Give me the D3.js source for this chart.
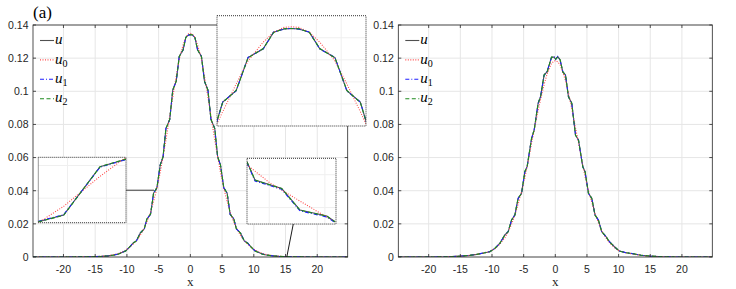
<!DOCTYPE html>
<html lang="en">
<head>
<meta charset="UTF-8">
<title>u, u0, u1, u2 profiles</title>
<style>
  body { margin: 0; background: #fff; }
</style>
</head>
<body>
<script src="https://d3js.org/d3.v7.min.js"></script>
<script>
// ---- data ----
const xTicks = [-20, -15, -10, -5, 0, 5, 10, 15, 20];
const yTicks = [0, 0.02, 0.04, 0.06, 0.08, 0.1, 0.12, 0.14];
const yTickLabels = ["0", "0.02", "0.04", "0.06", "0.08", "0.1", "0.12", "0.14"];
const legendLabels = [["u", ""], ["u", "0"], ["u", "1"], ["u", "2"]];
const seriesKeys = ["u", "u0", "u1", "u2"];

// left panel (a)
const xLeft = [-24.8, -20, -16, -14, -13, -12, -11.4, -10.8, -10.2, -9.6, -9.0, -8.5, -7.9, -7.25, -6.85, -6.27, -5.8, -5.27, -4.75, -4.3, -3.85, -3.25, -2.77, -2.23, -1.75, -1.14, -0.72, -0.3,
  0, 0.3, 0.72, 1.14, 1.75, 2.23, 2.77, 3.25, 3.85, 4.3, 4.75, 5.27, 5.8, 6.27, 6.85, 7.25, 7.9, 8.5, 9.0, 9.6, 10.2, 10.8, 11.4, 12, 13, 14, 16, 20, 24.8];
const uLeft = [0, 0, 0.0001, 0.0004, 0.0007, 0.0012, 0.0017, 0.0027, 0.0036, 0.0059, 0.0085, 0.0097, 0.0145, 0.0170, 0.0230, 0.0258, 0.0385, 0.0418, 0.0555, 0.0605, 0.0775, 0.0830, 0.1008, 0.1060, 0.1210, 0.1250, 0.1325, 0.1340,
  0.1342, 0.1340, 0.1325, 0.1250, 0.1210, 0.1060, 0.1008, 0.0830, 0.0775, 0.0605, 0.0555, 0.0418, 0.0385, 0.0258, 0.0230, 0.0170, 0.0145, 0.0097, 0.0085, 0.0059, 0.0036, 0.0027, 0.0017, 0.0012, 0.0007, 0.0004, 0.0001, 0, 0];
const u0Left = [0, 0, 0.0001, 0.0004, 0.0008, 0.0015, 0.0021, 0.0030, 0.0042, 0.0058, 0.0078, 0.0098, 0.0130, 0.0175, 0.0210, 0.0272, 0.0335, 0.0415, 0.0510, 0.0605, 0.0705, 0.0850, 0.0965, 0.1090, 0.1195, 0.1280, 0.1325, 0.1347,
  0.1350, 0.1347, 0.1325, 0.1280, 0.1195, 0.1090, 0.0965, 0.0850, 0.0705, 0.0605, 0.0510, 0.0415, 0.0335, 0.0272, 0.0210, 0.0175, 0.0130, 0.0098, 0.0078, 0.0058, 0.0042, 0.0030, 0.0021, 0.0015, 0.0008, 0.0004, 0.0001, 0, 0];
const u1Left = [0, 0, 0.0001, 0.0004, 0.0007, 0.0012, 0.0018, 0.0027, 0.0037, 0.0058, 0.0086, 0.0097, 0.0146, 0.0169, 0.0231, 0.0257, 0.0386, 0.0417, 0.0556, 0.0604, 0.0776, 0.0829, 0.1009, 0.1059, 0.1211, 0.1249, 0.1326, 0.1339,
  0.1343, 0.1339, 0.1326, 0.1249, 0.1211, 0.1059, 0.1009, 0.0829, 0.0776, 0.0604, 0.0556, 0.0417, 0.0386, 0.0257, 0.0231, 0.0169, 0.0146, 0.0097, 0.0086, 0.0058, 0.0037, 0.0027, 0.0018, 0.0012, 0.0007, 0.0004, 0.0001, 0, 0];
const u2Left = [0, 0, 0.0001, 0.0004, 0.0007, 0.0012, 0.0017, 0.0026, 0.0036, 0.0059, 0.0084, 0.0098, 0.0144, 0.0171, 0.0229, 0.0259, 0.0384, 0.0419, 0.0554, 0.0606, 0.0774, 0.0831, 0.1007, 0.1061, 0.1209, 0.1251, 0.1324, 0.1341,
  0.1342, 0.1341, 0.1324, 0.1251, 0.1209, 0.1061, 0.1007, 0.0831, 0.0774, 0.0606, 0.0554, 0.0419, 0.0384, 0.0259, 0.0229, 0.0171, 0.0144, 0.0098, 0.0084, 0.0059, 0.0036, 0.0026, 0.0017, 0.0012, 0.0007, 0.0004, 0.0001, 0, 0];

// right panel
const xRight = [-24.8, -20, -17, -15.1, -13.5, -12.4, -11.3, -10.33, -9.54, -8.75, -7.97, -7.44, -6.91, -6.39, -5.87, -5.33, -4.81, -4.45, -3.75, -3.34, -2.71, -2.33, -1.77, -1.29, -0.6, -0.19,
  0.05, 0.39, 0.76, 1.18, 1.61, 2.08, 2.6, 3.19, 3.66, 4.34, 4.7, 5.24, 5.76, 6.28, 6.81, 7.33, 8.01, 8.55, 9.34, 10.1, 11.2, 12.3, 13.5, 14.9, 17, 20, 24.8];
const uRight = [0, 0, 0.0001, 0.0005, 0.0010, 0.0016, 0.0024, 0.0032, 0.0052, 0.0083, 0.0133, 0.0153, 0.0223, 0.0253, 0.0354, 0.0384, 0.0515, 0.0545, 0.0716, 0.0766, 0.0928, 0.0967, 0.1098, 0.1118, 0.1205, 0.1207,
  0.1193, 0.1209, 0.1190, 0.1118, 0.1098, 0.0967, 0.0928, 0.0736, 0.0706, 0.0545, 0.0515, 0.0384, 0.0354, 0.0253, 0.0223, 0.0153, 0.0123, 0.0092, 0.0062, 0.0036, 0.0026, 0.0020, 0.0011, 0.0006, 0.0001, 0, 0];
const u0Right = [0, 0, 0.0001, 0.0005, 0.0010, 0.0016, 0.0024, 0.0034, 0.0050, 0.0078, 0.0116, 0.0152, 0.0198, 0.0252, 0.0318, 0.0395, 0.0478, 0.0545, 0.0685, 0.0765, 0.0885, 0.0950, 0.1040, 0.1105, 0.1168, 0.1183,
  0.1185, 0.1178, 0.1160, 0.1115, 0.1065, 0.0990, 0.0895, 0.0780, 0.0690, 0.0555, 0.0485, 0.0400, 0.0330, 0.0262, 0.0207, 0.0158, 0.0114, 0.0086, 0.0056, 0.0037, 0.0025, 0.0017, 0.0010, 0.0005, 0.0001, 0, 0];
const u1Right = [0, 0, 0.0001, 0.0005, 0.0010, 0.0016, 0.0025, 0.0033, 0.0051, 0.0084, 0.0132, 0.0154, 0.0222, 0.0254, 0.0353, 0.0385, 0.0514, 0.0546, 0.0715, 0.0767, 0.0927, 0.0968, 0.1097, 0.1119, 0.1204, 0.1208,
  0.1192, 0.1210, 0.1189, 0.1119, 0.1097, 0.0968, 0.0927, 0.0737, 0.0705, 0.0546, 0.0514, 0.0385, 0.0353, 0.0254, 0.0222, 0.0154, 0.0122, 0.0093, 0.0061, 0.0037, 0.0026, 0.0020, 0.0011, 0.0006, 0.0001, 0, 0];
const u2Right = [0, 0, 0.0001, 0.0005, 0.0010, 0.0016, 0.0024, 0.0032, 0.0053, 0.0082, 0.0134, 0.0152, 0.0224, 0.0252, 0.0355, 0.0383, 0.0516, 0.0544, 0.0717, 0.0765, 0.0929, 0.0966, 0.1099, 0.1117, 0.1206, 0.1206,
  0.1194, 0.1208, 0.1191, 0.1117, 0.1099, 0.0966, 0.0929, 0.0735, 0.0707, 0.0544, 0.0516, 0.0383, 0.0355, 0.0252, 0.0224, 0.0152, 0.0124, 0.0091, 0.0063, 0.0035, 0.0026, 0.0020, 0.0011, 0.0006, 0.0001, 0, 0];

// zoomed detail for the two small insets of panel (a)
const zoomAx = [-5.95, -5.82, -5.633, -5.5];
const zoomAu = [0.03856, 0.03897, 0.04192, 0.04238];
const zoomAu0 = [0.0385, 0.0395, 0.04134, 0.0425];
const zoomAu1 = [0.03858, 0.03899, 0.04190, 0.04236];
const zoomAu2 = [0.03855, 0.03895, 0.04193, 0.04239];
const zoomAtarget = [-5.73, 0.0403];

const zoomBx = [14.8, 14.872, 15.112, 15.277, 15.517, 15.592];
const zoomBu = [0.000679, 0.000568, 0.000517, 0.000385, 0.000349, 0.000314];
const zoomBu0x = [14.8, 15.006, 15.186, 15.592];
const zoomBu0 = [0.00066, 0.00055, 0.000476, 0.000312];
const zoomBu1 = [0.000672, 0.000562, 0.000511, 0.000380, 0.000343, 0.000309];
const zoomBu2 = [0.000678, 0.000567, 0.000516, 0.000384, 0.000348, 0.000313];
const zoomBtarget = [15.2, 0];

// ---- styles ----
const styles = {
  u:  { color: "#505050", dash: null },
  u0: { color: "#ff4a4a", dash: "1,1.5" },
  u1: { color: "#1f1fff", dash: "4,2,1,2" },
  u2: { color: "#1f8a1f", dash: "4,2.5" }
};
const axisColor = "#262626";
const gridColor = "#e6e6e6";
const sansFont = "'Liberation Sans', Arial, sans-serif";
const serifFont = "'Liberation Serif', 'Times New Roman', serif";

const svg = d3.select("body").append("svg")
  .attr("width", 736).attr("height", 289)
  .style("display", "block");

const panels = [
  { left: 33, right: 347.7, top: 25, bottom: 257, xs: xLeft,
    series: { u: uLeft, u0: u0Left, u1: u1Left, u2: u2Left }, title: "(a)" },
  { left: 398.3, right: 712.3, top: 25, bottom: 257, xs: xRight,
    series: { u: uRight, u0: u0Right, u1: u1Right, u2: u2Right }, title: null }
];

function drawLines(g, xs, series, x, y, width) {
  seriesKeys.forEach(k => {
    const pts = series[k].map((v, i) => [xs[i], v]);
    g.append("path")
      .datum(pts)
      .attr("fill", "none")
      .attr("stroke", styles[k].color)
      .attr("stroke-width", width)
      .attr("stroke-dasharray", styles[k].dash)
      .attr("d", d3.line().x(d => x(d[0])).y(d => y(d[1])));
  });
}

panels.forEach((p, pi) => {
  const x = d3.scaleLinear().domain([-24.8, 24.8]).range([p.left, p.right]);
  const y = d3.scaleLinear().domain([0, 0.14]).range([p.bottom, p.top]);
  p.x = x; p.y = y;
  const g = svg.append("g");

  // grid
  g.selectAll(".gx").data(xTicks).enter().append("line")
    .attr("x1", d => x(d)).attr("x2", d => x(d))
    .attr("y1", p.top).attr("y2", p.bottom)
    .attr("stroke", gridColor).attr("stroke-width", 1);
  g.selectAll(".gy").data(yTicks).enter().append("line")
    .attr("x1", p.left).attr("x2", p.right)
    .attr("y1", d => y(d)).attr("y2", d => y(d))
    .attr("stroke", gridColor).attr("stroke-width", 1);

  // curves
  const clipId = "clip" + pi;
  svg.append("clipPath").attr("id", clipId).append("rect")
    .attr("x", p.left).attr("y", p.top - 2)
    .attr("width", p.right - p.left).attr("height", p.bottom - p.top + 2);
  const lg = g.append("g").attr("clip-path", "url(#" + clipId + ")");
  drawLines(lg, p.xs, p.series, x, y, 1.1);

  // box and inward ticks
  g.append("rect")
    .attr("x", p.left).attr("y", p.top)
    .attr("width", p.right - p.left).attr("height", p.bottom - p.top)
    .attr("fill", "none").attr("stroke", axisColor).attr("stroke-width", 0.8);
  const tl = 3;
  xTicks.forEach(t => {
    g.append("line").attr("x1", x(t)).attr("x2", x(t)).attr("y1", p.bottom).attr("y2", p.bottom - tl)
      .attr("stroke", axisColor).attr("stroke-width", 0.8);
    g.append("line").attr("x1", x(t)).attr("x2", x(t)).attr("y1", p.top).attr("y2", p.top + tl)
      .attr("stroke", axisColor).attr("stroke-width", 0.8);
  });
  yTicks.forEach(t => {
    g.append("line").attr("x1", p.left).attr("x2", p.left + tl).attr("y1", y(t)).attr("y2", y(t))
      .attr("stroke", axisColor).attr("stroke-width", 0.8);
    g.append("line").attr("x1", p.right).attr("x2", p.right - tl).attr("y1", y(t)).attr("y2", y(t))
      .attr("stroke", axisColor).attr("stroke-width", 0.8);
  });

  // tick labels
  g.selectAll(".xl").data(xTicks).enter().append("text")
    .attr("x", d => x(d)).attr("y", p.bottom + 16)
    .attr("text-anchor", "middle")
    .attr("font-family", sansFont).attr("font-size", 10.5)
    .attr("fill", axisColor)
    .text(d => String(d));
  g.selectAll(".yl").data(yTicks).enter().append("text")
    .attr("x", p.left - 4.5).attr("y", d => y(d) + 3.8)
    .attr("text-anchor", "end")
    .attr("font-family", sansFont).attr("font-size", 10.5)
    .attr("fill", axisColor)
    .text((d, i) => yTickLabels[i]);

  // x label
  g.append("text")
    .attr("x", x(0)).attr("y", 286)
    .attr("text-anchor", "middle")
    .attr("font-family", serifFont).attr("font-size", 13)
    .attr("fill", axisColor)
    .text("x");

  if (p.title) {
    g.append("text")
      .attr("x", p.left).attr("y", 18)
      .attr("font-family", serifFont).attr("font-size", 17)
      .attr("fill", "#000")
      .text(p.title);
  }

  // legend
  const lgd = g.append("g");
  seriesKeys.forEach((k, i) => {
    const ly = p.top + 15.5 + i * 19.4;
    lgd.append("line")
      .attr("x1", p.left + 7).attr("x2", p.left + 21)
      .attr("y1", ly).attr("y2", ly)
      .attr("stroke", styles[k].color).attr("stroke-width", 1.1)
      .attr("stroke-dasharray", styles[k].dash);
    const t = lgd.append("text")
      .attr("x", p.left + 22).attr("y", ly + 3.7)
      .attr("font-family", serifFont).attr("font-size", 15)
      .attr("font-style", "italic").attr("fill", "#000");
    t.append("tspan").text(legendLabels[i][0]);
    if (legendLabels[i][1]) {
      t.append("tspan").attr("dy", 3).attr("font-size", 10)
        .attr("font-style", "normal").text(legendLabels[i][1]);
    }
  });
});

// ---- insets on panel (a) ----
const pa = panels[0];

function drawInset(box, xd, yd, lines, gridTicks) {
  const ix = d3.scaleLinear().domain(xd).range([box.x, box.x + box.w]);
  const iy = d3.scaleLinear().domain(yd).range([box.y + box.h, box.y]);
  const g = svg.append("g");
  const id = "iclip" + Math.round(box.x);
  svg.append("clipPath").attr("id", id).append("rect")
    .attr("x", box.x).attr("y", box.y).attr("width", box.w).attr("height", box.h);
  g.append("rect").attr("x", box.x).attr("y", box.y).attr("width", box.w).attr("height", box.h)
    .attr("fill", "#fff");
  const gx = gridTicks ? gridTicks[0] : ix.ticks(2);
  const gy = gridTicks ? gridTicks[1] : iy.ticks(2);
  g.selectAll(".igx").data(gx).enter().append("line")
    .attr("x1", d => ix(d)).attr("x2", d => ix(d)).attr("y1", box.y).attr("y2", box.y + box.h)
    .attr("stroke", "#efefef");
  g.selectAll(".igy").data(gy).enter().append("line")
    .attr("x1", box.x).attr("x2", box.x + box.w).attr("y1", d => iy(d)).attr("y2", d => iy(d))
    .attr("stroke", "#efefef");
  const cg = g.append("g").attr("clip-path", "url(#" + id + ")");
  lines.forEach(l => {
    cg.append("path")
      .datum(l.x.map((v, i) => [v, l.y[i]]))
      .attr("fill", "none")
      .attr("stroke", styles[l.key].color)
      .attr("stroke-width", 1.1)
      .attr("stroke-dasharray", styles[l.key].dash)
      .attr("d", d3.line().x(d => ix(d[0])).y(d => iy(d[1])));
  });
  g.append("rect").attr("x", box.x).attr("y", box.y).attr("width", box.w).attr("height", box.h)
    .attr("fill", "none").attr("stroke", "#333").attr("stroke-width", 1)
    .attr("stroke-dasharray", "1,1");
}

// connectors (drawn under the insets)
const boxA = { x: 38.3, y: 157.3, w: 87.7, h: 65.4 };
const boxB = { x: 247, y: 158.3, w: 89, h: 65.7 };
const boxTop = { x: 217, y: 15.7, w: 149, h: 110.3 };

svg.append("line")
  .attr("x1", boxA.x + boxA.w).attr("y1", pa.y(zoomAtarget[1]))
  .attr("x2", pa.x(zoomAtarget[0])).attr("y2", pa.y(zoomAtarget[1]))
  .attr("stroke", "#3a3a3a").attr("stroke-width", 1);
svg.append("line")
  .attr("x1", boxB.x + 0.52 * boxB.w).attr("y1", boxB.y + boxB.h)
  .attr("x2", pa.x(zoomBtarget[0])).attr("y2", pa.y(zoomBtarget[1]))
  .attr("stroke", "#1a1a1a").attr("stroke-width", 1);

drawInset(boxTop, [-3, 3], [0.09, 0.14], seriesKeys.map(k => ({ key: k, x: xLeft, y: pa.series[k] })),
  [[-2, -1, 0, 1, 2], [0.1, 0.11, 0.12, 0.13]]);
drawInset(boxA, [-5.95, -5.5], [0.0385, 0.0425], [
  { key: "u", x: zoomAx, y: zoomAu },
  { key: "u0", x: zoomAx, y: zoomAu0 },
  { key: "u1", x: zoomAx, y: zoomAu1 },
  { key: "u2", x: zoomAx, y: zoomAu2 }
]);
drawInset(boxB, [14.8, 15.6], [0.0003, 0.0007], [
  { key: "u", x: zoomBx, y: zoomBu },
  { key: "u0", x: zoomBu0x, y: zoomBu0 },
  { key: "u1", x: zoomBx, y: zoomBu1 },
  { key: "u2", x: zoomBx, y: zoomBu2 }
]);
</script>
</body>
</html>
